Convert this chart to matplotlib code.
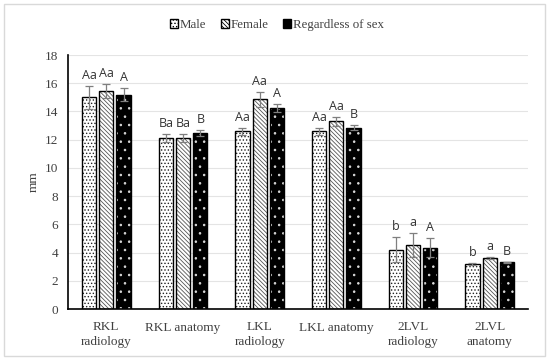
import numpy as np
import matplotlib.pyplot as plt
from matplotlib.patches import Rectangle, Patch

# datos
categorias = ['RKL\nradiology', 'RKL anatomy', 'LKL\nradiology', 'LKL anatomy', '2LVL\nradiology', '2LVL\nanatomy']
series = ['Male', 'Female', 'Regardless of sex']
male = [15.0, 12.1, 12.6, 12.6, 4.2, 3.2]
female = [15.45, 12.1, 14.85, 13.3, 4.55, 3.6]
regardless = [15.2, 12.45, 14.25, 12.85, 4.35, 3.3]
err_male = [0.8, 0.3, 0.25, 0.25, 0.9, 0.05]
err_female = [0.5, 0.3, 0.55, 0.3, 0.85, 0.05]
err_regardless = [0.45, 0.2, 0.3, 0.2, 0.7, 0.05]
lab_male = ['Aa', 'Ba', 'Aa', 'Aa', 'b', 'b']
lab_female = ['Aa', 'Ba', 'Aa', 'Aa', 'a', 'a']
lab_regardless = ['A', 'B', 'A', 'B', 'A', 'B']

plt.rcParams['hatch.linewidth'] = 0.6
fig = plt.figure(figsize=(5.5, 3.62), dpi=100)
ax = fig.add_axes([68 / 550, 1 - 309 / 362, 460 / 550, 254 / 362])

x = np.arange(len(categorias))
ancho = 0.185
paso = 0.225

valores = [male, female, regardless]
errores = [err_male, err_female, err_regardless]
etiquetas = [lab_male, lab_female, lab_regardless]
estilos = [
    dict(color='white', edgecolor='#222222', hatch='.....'),
    dict(color='white', edgecolor='#555555', hatch='\\' * 8),
    dict(color='black', edgecolor='#dddddd', hatch='..'),
]

for i in range(3):
    pos = x + (i - 1) * paso
    ax.bar(pos, valores[i], ancho, facecolor=estilos[i]['color'],
           edgecolor=estilos[i]['edgecolor'], hatch=estilos[i]['hatch'], linewidth=0, zorder=2)
    # borde negro
    ax.bar(pos, valores[i], ancho, fill=False, edgecolor='black', linewidth=1.0, zorder=3)
    ax.errorbar(pos, valores[i], yerr=errores[i], fmt='none', ecolor='#7f7f7f',
                elinewidth=0.9, capsize=3, capthick=0.9, zorder=4)
    for p, v, e, t in zip(pos, valores[i], errores[i], etiquetas[i]):
        ax.annotate(t, (p, v + e), xytext=(0, 3), textcoords='offset points',
                    ha='center', va='bottom', fontsize=9, family='Open Sans', color='#333333')

ax.set_ylim(0, 18)
ax.set_xlim(-0.5, len(categorias) - 0.5)
ax.set_yticks(range(0, 19, 2))
ax.set_xticks(x)
ax.set_xticklabels(categorias, family='Liberation Serif', fontsize=9.5, color='#404040', linespacing=1.25)
for t in ax.get_yticklabels():
    t.set_family('Liberation Serif')
    t.set_fontsize(9.5)
    t.set_color('#404040')
ax.tick_params(axis='y', length=0, pad=7)
ax.tick_params(axis='x', length=0, pad=9)
ax.yaxis.grid(True, color='#e4e4e4', linewidth=0.8, zorder=0)
ax.set_axisbelow(True)
for s in ['top', 'right']:
    ax.spines[s].set_visible(False)
ax.spines['left'].set_linewidth(1.2)
ax.spines['bottom'].set_linewidth(1.2)
ax.set_ylabel('mm', family='Liberation Serif', fontsize=9.5, color='#404040', labelpad=4)

handles = [Patch(facecolor=estilos[i]['color'], edgecolor='black', hatch=estilos[i]['hatch'] if i < 2 else None)
           for i in range(3)]
fig.legend(handles, series, loc='center', bbox_to_anchor=(277 / 550, 1 - 25 / 362), ncol=3, frameon=False,
           prop={'family': 'Liberation Serif', 'size': 9.3}, handlelength=0.6, handleheight=0.6,
           handletextpad=0.15, columnspacing=1.15, labelcolor='#404040')

fig.patches.append(Rectangle((4 / 550, 1 - 356 / 362), 541 / 550, 352 / 362, transform=fig.transFigure,
                             fill=False, edgecolor='#d9d9d9', linewidth=1))

fig.savefig('out.png', dpi=100)
